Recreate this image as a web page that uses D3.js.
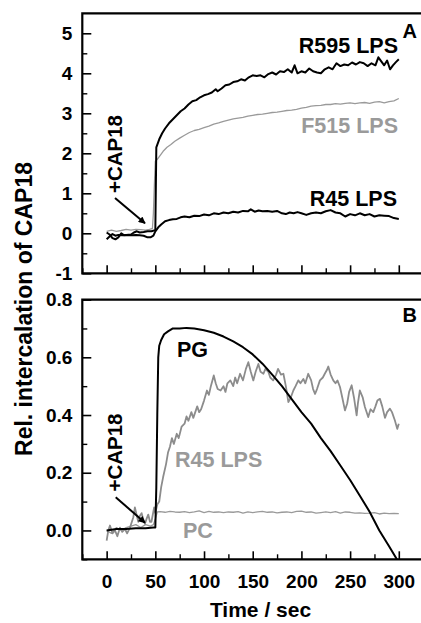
<!DOCTYPE html>
<html><head><meta charset="utf-8">
<script src="https://cdn.jsdelivr.net/npm/d3@7"></script>
<style>
html,body{margin:0;padding:0;background:#fff;}
svg text{font-family:"Liberation Sans",Arial,Helvetica,sans-serif;font-weight:bold;}
</style></head>
<body><svg id="c" width="421" height="623"></svg>
<script>
// ---------- data ----------
const xTicks = [0, 50, 100, 150, 200, 250, 300];
const yTicksA = [-1, 0, 1, 2, 3, 4, 5];
const yTicksB = [0.0, 0.2, 0.4, 0.6, 0.8];

// Panel A series: [time (s), relative intercalation]
const r595 = [[0,-0.15],[3,-0.08],[6,-0.02],[9,-0.06],[12,-0.04],[16,-0.05],[20,-0.04],[25,-0.03],[28,0.02],[31,0.05],[34,0.02],[38,0.03],[42,0.05],[46,0.05],[50,0.08],
 [51,2.15],[54,2.35],[57,2.5],[60,2.62],[64,2.75],[68,2.85],[72,2.95],[76,3.05],[80,3.12],[84,3.22],[88,3.3],[92,3.33],[96,3.4],[100,3.45],[104,3.48],[108,3.52],[112,3.6],[114,3.55],[118,3.62],[122,3.7],[126,3.72],[130,3.78],[134,3.8],[138,3.85],[142,3.82],[146,3.9],[150,3.95],[154,3.93],[158,3.95],[162,3.9],[166,3.98],[170,4.02],[174,3.97],[178,4.05],[182,4.03],[186,4.1],[190,4.02],[193,4.2],[196,4.0],[200,4.05],[204,4.02],[208,4.12],[212,4.05],[216,4.02],[220,4.0],[224,4.1],[228,4.15],[232,4.1],[236,4.25],[240,4.18],[244,4.22],[248,4.2],[252,4.27],[256,4.22],[260,4.28],[264,4.25],[268,4.18],[272,4.25],[276,4.2],[279,4.4],[282,4.3],[285,4.2],[288,4.32],[291,4.1],[294,4.2],[297,4.28],[300,4.35]];
const f515 = [[0,0.05],[5,0.08],[10,0.05],[15,0.07],[20,0.1],[25,0.08],[30,0.1],[35,0.09],[40,0.08],[44,0.1],[47,0.12],[48,0.5],[49,1.2],[50,1.8],[52,1.85],[55,1.95],[58,2.05],[62,2.15],[66,2.22],[70,2.3],[75,2.38],[80,2.45],[85,2.52],[90,2.57],[95,2.6],[100,2.64],[105,2.68],[110,2.73],[115,2.76],[120,2.8],[125,2.83],[130,2.86],[135,2.88],[140,2.9],[145,2.93],[150,2.95],[155,2.97],[160,2.98],[165,3.0],[170,3.02],[175,3.03],[180,3.05],[185,3.07],[190,3.08],[195,3.1],[200,3.13],[205,3.15],[210,3.18],[215,3.19],[220,3.2],[225,3.22],[230,3.22],[235,3.24],[240,3.23],[245,3.25],[250,3.26],[255,3.24],[260,3.26],[265,3.27],[270,3.25],[275,3.28],[280,3.29],[285,3.26],[290,3.29],[295,3.31],[300,3.37]];
const r45a = [[0,0.02],[3,-0.03],[6,-0.12],[9,-0.15],[12,-0.1],[15,0.0],[18,-0.05],[22,-0.04],[26,-0.05],[30,-0.04],[34,-0.05],[38,-0.06],[42,-0.1],[45,-0.1],[48,-0.06],[50,0.05],[53,0.15],[56,0.22],[60,0.3],[64,0.33],[68,0.35],[72,0.36],[76,0.4],[80,0.42],[85,0.4],[90,0.44],[95,0.43],[100,0.47],[105,0.45],[110,0.5],[115,0.48],[120,0.52],[125,0.5],[130,0.54],[135,0.52],[140,0.56],[145,0.55],[148,0.6],[152,0.54],[156,0.57],[160,0.55],[165,0.56],[170,0.54],[175,0.56],[180,0.5],[184,0.48],[188,0.52],[192,0.5],[196,0.53],[200,0.5],[205,0.46],[210,0.5],[215,0.52],[220,0.5],[225,0.55],[230,0.58],[235,0.52],[240,0.5],[245,0.42],[250,0.48],[255,0.45],[260,0.5],[265,0.45],[270,0.48],[275,0.42],[280,0.45],[285,0.44],[290,0.43],[295,0.38],[300,0.36]];

// Panel B series
const pg = [[0,0.0],[10,0.005],[20,0.005],[30,0.008],[40,0.008],[48,0.01],[50,0.01],[51,0.15],[52,0.4],[53,0.6],[54,0.64],[56,0.66],[59,0.68],[63,0.69],[68,0.7],[75,0.7],[82,0.702],[90,0.7],[100,0.694],[110,0.685],[120,0.672],[130,0.655],[140,0.635],[150,0.61],[160,0.578],[170,0.54],[180,0.5],[190,0.455],[200,0.41],[210,0.37],[220,0.32],[230,0.275],[240,0.225],[250,0.175],[260,0.12],[270,0.065],[280,0.0],[290,-0.055],[298,-0.1]];
const r45b = [[0,-0.035],[1.7,0.0],[3.4,0.017],[6,-0.01],[8.5,0.0],[11,-0.02],[13.7,0.01],[16,-0.005],[18.8,0.005],[21,-0.01],[24,0.01],[27.4,0.046],[29,0.08],[31,0.05],[32.5,0.03],[34,0.05],[35.9,0.06],[37.5,0.04],[39.3,0.023],[41,0.04],[42.7,0.055],[44.5,0.03],[46,0.03],[48.8,0.08],[50,0.06],[52,0.09],[54,0.1],[56,0.15],[58,0.185],[61,0.23],[63,0.27],[65,0.29],[67,0.32],[69,0.3],[72,0.335],[74,0.32],[77,0.36],[80,0.37],[82,0.395],[84,0.38],[87,0.41],[89,0.39],[91,0.41],[93,0.43],[95,0.41],[97,0.42],[100,0.45],[103,0.485],[105,0.47],[107,0.5],[110,0.537],[112,0.51],[114,0.49],[117,0.485],[120,0.5],[122,0.48],[124,0.51],[127,0.52],[130,0.5],[132,0.53],[134,0.51],[137,0.543],[140,0.52],[143,0.56],[145.5,0.583],[148,0.55],[150.6,0.52],[153,0.55],[155.8,0.577],[158,0.55],[161,0.543],[163,0.56],[166,0.55],[168,0.53],[171,0.52],[174,0.54],[176,0.56],[179,0.54],[181.5,0.543],[184,0.5],[186.6,0.445],[189,0.46],[191.7,0.485],[194,0.5],[196.8,0.52],[199,0.51],[202,0.525],[204,0.51],[207,0.543],[210,0.52],[212,0.49],[214,0.473],[216,0.49],[219,0.52],[222,0.53],[224,0.543],[226,0.555],[227.6,0.568],[230,0.54],[232.7,0.52],[235,0.51],[237,0.52],[239.6,0.497],[242,0.46],[244.7,0.416],[247,0.44],[249,0.48],[251.6,0.503],[254,0.46],[256.7,0.399],[258,0.44],[260,0.485],[263,0.46],[265.2,0.428],[268.6,0.393],[271,0.42],[273.8,0.41],[276,0.43],[278,0.45],[280.6,0.456],[283,0.43],[285.8,0.39],[288,0.41],[290.9,0.422],[293,0.41],[296,0.381],[298.4,0.352],[300,0.37]];
const pc = [[0,0.0],[5,-0.01],[10,0.01],[15,0.0],[20,0.01],[25,0.015],[30,0.02],[35,0.01],[40,0.02],[45,0.015],[48,0.02],[50,0.04],[52,0.064],[55,0.065],[60,0.063],[65,0.066],[70,0.064],[75,0.063],[80,0.065],[85,0.062],[90,0.064],[95,0.068],[100,0.062],[105,0.066],[110,0.063],[115,0.064],[120,0.062],[125,0.064],[130,0.063],[135,0.065],[140,0.06],[145,0.064],[150,0.062],[155,0.064],[160,0.066],[165,0.063],[170,0.064],[175,0.061],[180,0.063],[185,0.064],[190,0.062],[195,0.066],[200,0.067],[205,0.063],[210,0.064],[215,0.06],[220,0.062],[225,0.064],[230,0.062],[235,0.065],[240,0.06],[245,0.064],[250,0.063],[255,0.06],[260,0.061],[265,0.059],[270,0.06],[275,0.062],[280,0.057],[285,0.06],[290,0.058],[295,0.059],[300,0.058]];

// ---------- layout ----------
const svg = d3.select("#c");
const X0 = 82.3, X1 = 421.2;
const x = d3.scaleLinear().domain([-25, 323]).range([X0, X1]);
const panels = [
  {id:"A", y: d3.scaleLinear().domain([-1, 5.5]).range([273.3, 13.3]), major: yTicksA, minor: d3.range(-0.5, 5.5, 1), fmt: d3.format("d")},
  {id:"B", y: d3.scaleLinear().domain([-0.1, 0.8]).range([559.3, 299.6]), major: yTicksB, minor: [-0.1,0.1,0.3,0.5,0.7], fmt: d3.format(".1f")}
];
const xMinor = [-25, 25, 75, 125, 175, 225, 275];
const black = "#000", gray = "#9a9a9a";

panels.forEach((p, i) => {
  const g = svg.append("g");
  const [yb, yt] = p.y.range();
  const clipId = "clip" + p.id;
  svg.append("clipPath").attr("id", clipId).append("rect")
    .attr("x", X0).attr("y", yt).attr("width", X1 - X0).attr("height", yb - yt);

  // y axis
  const ya = g.append("g").attr("transform", `translate(${X0},0)`)
    .call(d3.axisLeft(p.y).tickValues(p.major).tickSize(-9).tickPadding(10).tickFormat(d => p.fmt(d).replace("−","-")));
  ya.select(".domain").remove();
  ya.selectAll(".tick line").attr("stroke-width", 1.6);
  ya.selectAll("text").attr("font-size", 19).attr("fill", "#000");
  const ym = g.append("g").attr("transform", `translate(${X0},0)`)
    .call(d3.axisLeft(p.y).tickValues(p.minor).tickSize(-5).tickFormat(""));
  ym.select(".domain").remove();
  ym.selectAll(".tick line").attr("stroke-width", 1.4);

  // x axis
  const xa = g.append("g").attr("transform", `translate(0,${yb})`)
    .call(d3.axisBottom(x).tickValues(xTicks).tickSize(-8).tickPadding(15).tickFormat(i === 1 ? d3.format("d") : ""));
  xa.select(".domain").remove();
  xa.selectAll(".tick line").attr("stroke-width", 1.6);
  xa.selectAll("text").attr("font-size", 19).attr("fill", "#000");
  const xm = g.append("g").attr("transform", `translate(0,${yb})`)
    .call(d3.axisBottom(x).tickValues(xMinor).tickSize(-5).tickFormat(""));
  xm.select(".domain").remove();
  xm.selectAll(".tick line").attr("stroke-width", 1.4);

  // frame (left, top, bottom)
  g.append("path").attr("d", `M${X1},${yt}H${X0}V${yb}H${X1}`)
    .attr("fill", "none").attr("stroke", "#000").attr("stroke-width", 2.2);

  p.g = g; p.clip = clipId;
});

function drawLine(p, data, color, width) {
  const line = d3.line().x(d => x(d[0])).y(d => p.y(d[1]));
  p.g.append("path").datum(data).attr("clip-path", `url(#${p.clip})`)
    .attr("d", line).attr("fill", "none").attr("stroke", color)
    .attr("stroke-width", width).attr("stroke-linejoin", "round");
}
const A = panels[0], B = panels[1];
drawLine(A, f515, gray, 1.3);
drawLine(A, r45a, black, 2);
drawLine(A, r595, black, 2);
drawLine(B, pc, gray, 1.3);
drawLine(B, r45b, "#8c8c8c", 1.8);
drawLine(B, pg, black, 2);

// labels
function label(txt, xx, yy, anchor, color, size) {
  svg.append("text").attr("x", xx).attr("y", yy).attr("text-anchor", anchor)
    .attr("fill", color).attr("font-size", size).text(txt);
}
label("R595 LPS", 398, 53, "end", "#000", 21.5);
label("F515 LPS", 398, 133, "end", gray, 21.5);
label("R45 LPS", 397, 205.5, "end", "#000", 21.5);
label("A", 417, 38, "end", "#000", 20);
label("B", 417, 322, "end", "#000", 20);
label("PG", 177, 357, "start", "#000", 21.5);
label("R45 LPS", 175, 467, "start", gray, 21.5);
label("PC", 183, 538, "start", gray, 21.5);

// +CAP18 annotations with arrows
const defs = svg.append("defs");
defs.append("marker").attr("id", "ah").attr("viewBox", "0 0 10 10").attr("refX", 9).attr("refY", 5)
  .attr("markerWidth", 9).attr("markerHeight", 7).attr("markerUnits", "userSpaceOnUse").attr("orient", "auto")
  .append("path").attr("d", "M0,0L10,5L0,10Z").attr("fill", "#000");
[[154, 115, 198, 145, 223.3], [452.5, 115.7, 497.3, 145, 522.7]].forEach(a => {
  svg.append("text").attr("transform", `translate(121.5,${a[0]}) rotate(-90)`)
    .attr("text-anchor", "middle").attr("font-size", 20.5).attr("fill", "#000").text("+CAP18");
  svg.append("line").attr("x1", a[1]).attr("y1", a[2]).attr("x2", a[3]).attr("y2", a[4])
    .attr("stroke", "#000").attr("stroke-width", 2).attr("marker-end", "url(#ah)");
});

// axis titles
svg.append("text").attr("transform", "translate(31.5,309) rotate(-90)")
  .attr("text-anchor", "middle").attr("font-size", 23).attr("fill", "#000").text("Rel. intercalation of CAP18");
svg.append("text").attr("x", 260.5).attr("y", 617).attr("text-anchor", "middle")
  .attr("font-size", 21).attr("fill", "#000").text("Time / sec");
</script></body></html>
